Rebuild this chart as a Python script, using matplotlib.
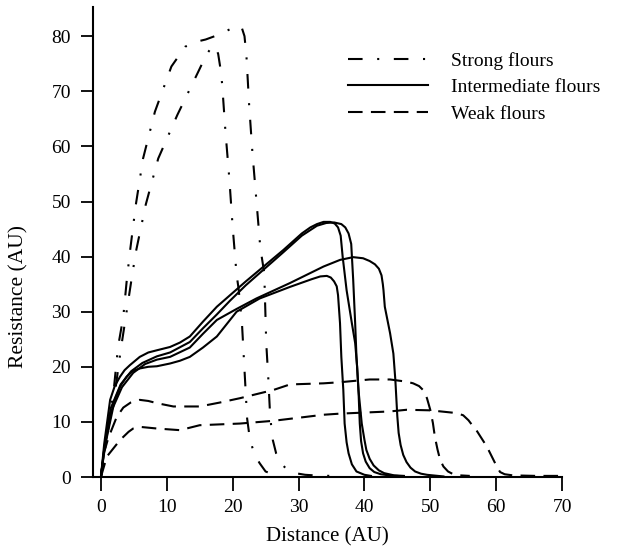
import matplotlib
matplotlib.use("Agg")
import matplotlib.pyplot as plt

plt.rcParams['font.family'] = ['Liberation Serif', 'DejaVu Serif']

# strong flours (dash-dot)
strong_a_x = [0, 0.3, 1.0, 1.9, 2.6, 3.4, 3.9, 4.4, 5.3, 6.4, 8.2, 10.7, 12.8, 14.5, 15.9, 17.5, 18.8, 20.0, 20.9,
              21.4, 21.8, 22.1, 22.5, 23.0, 23.6, 24.2, 24.8, 25.1, 25.4, 25.7, 26.1, 26.6, 27.4, 28.3, 29.5, 31.0,
              33.0, 35.0]
strong_a_y = [0, 3.0, 9.0, 15.2, 23.6, 29.1, 35.4, 40.8, 49.4, 57.8, 66.3, 74.5, 78.1, 79.0, 79.4, 80.1, 80.8, 81.5,
              81.9, 81.5, 80.0, 76.3, 67.6, 58.9, 50.3, 41.6, 37.0, 24.3, 18.2, 10.9, 6.7, 4.3, 2.4, 1.3, 0.7, 0.4,
              0.25, 0.2]
strong_b_x = [0, 0.5, 1.2, 2.1, 3.0, 3.9, 4.6, 5.3, 6.8, 8.7, 11.6, 14.8, 16.0, 16.8, 17.3, 17.8, 18.1, 18.4, 18.9,
              19.5, 20.0, 20.6, 20.9, 21.4, 21.8, 22.2, 22.6, 23.1, 23.6, 24.1, 25.0, 26.5]
strong_b_y = [0, 4.0, 9.5, 15.0, 23.0, 30.0, 35.5, 40.8, 49.4, 57.8, 65.7, 73.6, 76.6, 78.0, 78.3, 76.8, 74.5, 71.4,
              62.8, 54.1, 45.4, 36.7, 34.2, 28.2, 19.4, 10.6, 7.0, 4.9, 3.5, 2.5, 1.0, 0.3]

# intermediate flours (solid)
inter_a_x = [0, 0.5, 1.4, 2.1, 2.9, 3.6, 4.4, 5.9, 7.2, 8.5, 10.5, 12.0, 13.5, 15.5, 17.6, 22.0, 27.7, 30.5, 31.8,
             32.8, 33.8, 34.8, 35.5, 36.0, 36.4, 36.7, 37.3, 38.1, 38.6, 38.9, 39.1, 39.3, 39.5, 39.8, 40.2, 40.8,
             41.5, 42.5, 44.0, 45.0]
inter_a_y = [0, 6.0, 14.0, 16.5, 18.2, 19.4, 20.3, 21.8, 22.6, 23.0, 23.6, 24.4, 25.5, 28.2, 30.9, 35.5, 41.2, 44.2,
             45.3, 45.9, 46.3, 46.3, 46.0, 45.3, 43.8, 40.0, 33.9, 27.9, 24.3, 20.0, 15.8, 9.7, 6.5, 4.3, 2.8, 1.6,
             0.9, 0.5, 0.25, 0.2]
inter_b_x = [0, 0.5, 1.5, 3.0, 4.6, 6.3, 8.5, 10.5, 13.5, 15.5, 17.6, 19.6, 22.0, 27.7, 30.5, 32.8, 34.2, 35.4,
             36.5, 37.1, 37.6, 38.0, 38.3, 38.6, 38.8, 39.1, 39.6, 40.0, 40.3, 40.8, 41.4, 42.2, 43.0, 44.5, 46.0]
inter_b_y = [0, 5.0, 12.5, 16.8, 19.2, 20.7, 21.9, 22.6, 24.5, 27.0, 29.5, 32.0, 34.8, 40.8, 43.8, 45.6, 46.1, 46.2,
             45.9, 45.3, 44.2, 42.3, 35.8, 27.9, 21.8, 15.8, 9.7, 6.8, 4.9, 3.3, 2.1, 1.2, 0.7, 0.3, 0.2]
inter_c_x = [0, 0.5, 1.6, 3.2, 4.9, 6.7, 8.5, 10.5, 13.5, 15.5, 17.6, 20.6, 23.6, 28.7, 33.8, 36.3, 38.3, 39.8,
             40.8, 41.6, 42.2, 42.6, 42.8, 42.9, 43.1, 43.9, 44.4, 44.7, 45.0, 45.2, 45.5, 45.9, 46.4, 47.0, 47.7,
             48.6, 49.5, 52.0]
inter_c_y = [0, 5.0, 12.0, 16.3, 18.9, 20.5, 21.3, 21.8, 23.5, 26.0, 28.5, 30.5, 32.4, 35.2, 38.2, 39.4, 39.9, 39.7,
             39.2, 38.6, 37.8, 36.6, 35.0, 33.9, 30.9, 26.1, 22.4, 17.6, 11.0, 8.0, 5.8, 4.0, 2.7, 1.7, 1.0, 0.6,
             0.4, 0.1]
inter_d_x = [0, 0.6, 2.1, 3.0, 3.9, 4.8, 5.9, 7.2, 8.5, 10.5, 12.0, 13.5, 15.5, 17.6, 19.6, 20.6, 24.1, 28.7, 32.0,
             33.3, 34.3, 34.9, 35.4, 35.8, 36.0, 36.3, 36.5, 36.8, 37.0, 37.3, 37.6, 38.1, 38.8, 40.0, 41.0]
inter_d_y = [0, 5.5, 14.0, 16.6, 18.2, 19.2, 19.7, 20.0, 20.1, 20.6, 21.1, 21.8, 23.5, 25.5, 28.5, 30.0, 32.4, 34.5,
             35.9, 36.4, 36.5, 36.2, 35.5, 34.6, 33.0, 27.9, 21.8, 15.8, 9.7, 6.3, 4.3, 2.3, 1.0, 0.4, 0.2]

# weak flours (dashed)
weak_a_x = [0, 0.5, 1.1, 2.4, 3.4, 4.5, 5.9, 7.2, 8.5, 11.0, 15.0, 18.0, 21.1, 26.2, 28.7, 33.8, 36.3, 40.8, 43.9,
            46.4, 47.4, 48.3, 48.9, 49.5, 50.0, 50.4, 50.7, 51.1, 51.5, 52.0, 52.7, 53.5, 54.5, 56.0]
weak_a_y = [0, 4.5, 7.0, 10.9, 12.6, 13.5, 14.0, 13.8, 13.4, 12.8, 12.8, 13.5, 14.3, 15.8, 16.8, 17.0, 17.2, 17.7,
            17.7, 17.3, 17.0, 16.5, 15.8, 14.3, 12.2, 9.8, 7.3, 5.0, 3.1, 1.9, 1.0, 0.5, 0.3, 0.2]
weak_b_x = [0, 0.9, 2.9, 4.2, 4.9, 5.9, 8.5, 12.0, 15.0, 21.1, 26.2, 33.8, 36.3, 43.9, 46.4, 50.0, 54.0, 55.0,
            55.8, 56.5, 57.0, 58.6, 60.1, 60.6, 61.3, 62.5, 66.0, 70.0]
weak_b_y = [0, 3.7, 6.7, 8.2, 8.8, 9.1, 8.8, 8.5, 9.4, 9.7, 10.2, 11.3, 11.5, 11.9, 12.2, 12.1, 11.6, 11.2,
            10.3, 9.2, 8.5, 5.5, 1.9, 0.9, 0.5, 0.3, 0.2, 0.2]

x_ticks = [0, 10, 20, 30, 40, 50, 60, 70]
y_ticks = [0, 10, 20, 30, 40, 50, 60, 70, 80]

fig = plt.figure(figsize=(6.22, 5.5), dpi=100)
ax = fig.add_axes([93 / 622, 73 / 550, 469 / 622, 470 / 550])

lw = 1.5
dashdot = (0, (7, 7, 1, 7))
dashed = (0, (7, 4))

l_strong, = ax.plot(strong_a_x, strong_a_y, color='black', lw=lw, linestyle=dashdot)
ax.plot(strong_b_x, strong_b_y, color='black', lw=lw, linestyle=dashdot)
l_inter, = ax.plot(inter_a_x, inter_a_y, color='black', lw=lw)
ax.plot(inter_b_x, inter_b_y, color='black', lw=lw)
ax.plot(inter_c_x, inter_c_y, color='black', lw=lw)
ax.plot(inter_d_x, inter_d_y, color='black', lw=lw)
l_weak, = ax.plot(weak_a_x, weak_a_y, color='black', lw=lw, linestyle=dashed)
ax.plot(weak_b_x, weak_b_y, color='black', lw=lw, linestyle=dashed)

ax.set_xlim(-1.2, 70)
ax.set_ylim(0, 85.3)
ax.set_xticks(x_ticks)
ax.set_yticks(y_ticks)
ax.spines['top'].set_visible(False)
ax.spines['right'].set_visible(False)
ax.spines['left'].set_linewidth(1.5)
ax.spines['bottom'].set_linewidth(1.5)
ax.tick_params(axis='x', direction='out', length=10, width=1.3, labelsize=14, pad=6)
ax.tick_params(axis='y', direction='out', length=9, width=1.3, labelsize=14, pad=7)

ax.set_xlabel('Distance (AU)', fontsize=15, labelpad=8)
ax.set_ylabel('Resistance (AU)', fontsize=15.5)
# the y label sits below the middle of the axis in the original
ax.yaxis.set_label_coords(-0.137, 0.385)

ax.legend([l_strong, l_inter, l_weak], ['Strong flours', 'Intermediate flours', 'Weak flours'],
          loc='upper left', bbox_to_anchor=(348 / 622, 1 - 52 / 550), bbox_transform=fig.transFigure,
          frameon=False, fontsize=14, handlelength=4.1, handletextpad=1.2, labelspacing=0.45,
          borderpad=0, borderaxespad=0)

fig.savefig('out.png', dpi=100)
